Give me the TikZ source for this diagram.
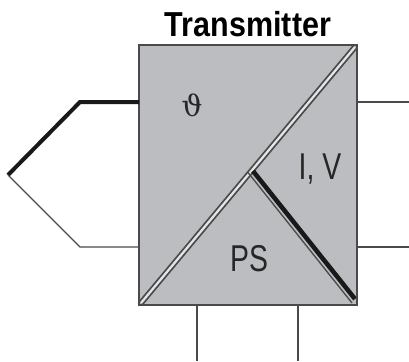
\documentclass[tikz,border=0pt]{standalone}
\usepackage{amsmath}
\usepackage{fontspec}
\setmainfont[FakeStretch=0.76]{Liberation Sans}
\newfontfamily\titlefont[FakeStretch=0.88]{Liberation Sans}
\newfontfamily\thetafont{DejaVu Serif}
\usetikzlibrary{positioning}
\definecolor{boxgray}{HTML}{BBBDC0}
\definecolor{wiregray}{HTML}{4A4A4A}
\tikzset{
  thinwire/.style={draw=wiregray,line width=1pt},
  thickwire/.style={draw=black!90,line width=3pt},
  rail/.style={draw=wiregray,line width=4.4pt},
  railgap/.style={draw=boxgray!40,line width=1.7pt},
  lbl/.style={text=black!85,inner sep=0pt,font=\fontsize{28}{28}\selectfont}
}
\begin{document}
\begin{tikzpicture}[x=0.75pt,y=-0.75pt]
  \useasboundingbox (0,0) rectangle (409,361);

  \coordinate (tl) at (139,45);
  \coordinate (tr) at (357,45);
  \coordinate (bl) at (139,305);
  \coordinate (br) at (357,305);
  \fill[boxgray] (tl) -- (tr) -- (br) -- (bl) -- cycle;

  % diagonals
  \coordinate (d1) at (141,303);
  \coordinate (d2) at (355,47);
  \coordinate (m1) at (248,172.5);
  \coordinate (m2) at (352,303);
  \coordinate (k1) at (253,171);
  \coordinate (k2) at (355,299);
  \draw[rail] (d1) -- (d2);
  \draw[railgap] (d1) -- (d2);
  \draw[thinwire] (m1) -- (m2);
  \draw[thickwire,line width=3.4pt] (k1) -- (k2);

  \draw[thinwire,line width=1.2pt] (tl) -- (tr) -- (br) -- (bl) -- cycle;

  % left wires
  \coordinate (tip) at (8,175);
  \coordinate (up) at (80,102);
  \coordinate (lo) at (80,247);
  \coordinate (inu) at (139,102);
  \coordinate (inl) at (139,247);
  \draw[thickwire,line join=miter] (inu) -- (up) -- (tip);
  \draw[thinwire] (inl) -- (lo) -- (tip);

  % outputs
  \foreach \name/\y in {o1/102,o2/247}{
    \coordinate (\name a) at (357,\y);
    \coordinate (\name b) at (409,\y);
    \draw[thinwire,line width=1.2pt] (\name a) -- (\name b);
  }
  \foreach \name/\x in {p1/197,p2/298}{
    \coordinate (\name a) at (\x,305);
    \coordinate (\name b) at (\x,361);
    \draw[thinwire,line width=1.2pt] (\name a) -- (\name b);
  }

  \node[lbl,text=black,font=\titlefont\bfseries\fontsize{26}{26}\selectfont] (title) at (248,24) {Transmitter};
  \node[lbl,font=\thetafont\fontsize{22}{22}\selectfont] (theta) at (192,105) {ϑ};
  \node[lbl] (iv) at (320,169) {I, V};
  \node[lbl] (ps) at (249,259) {PS};
\end{tikzpicture}
\end{document}
